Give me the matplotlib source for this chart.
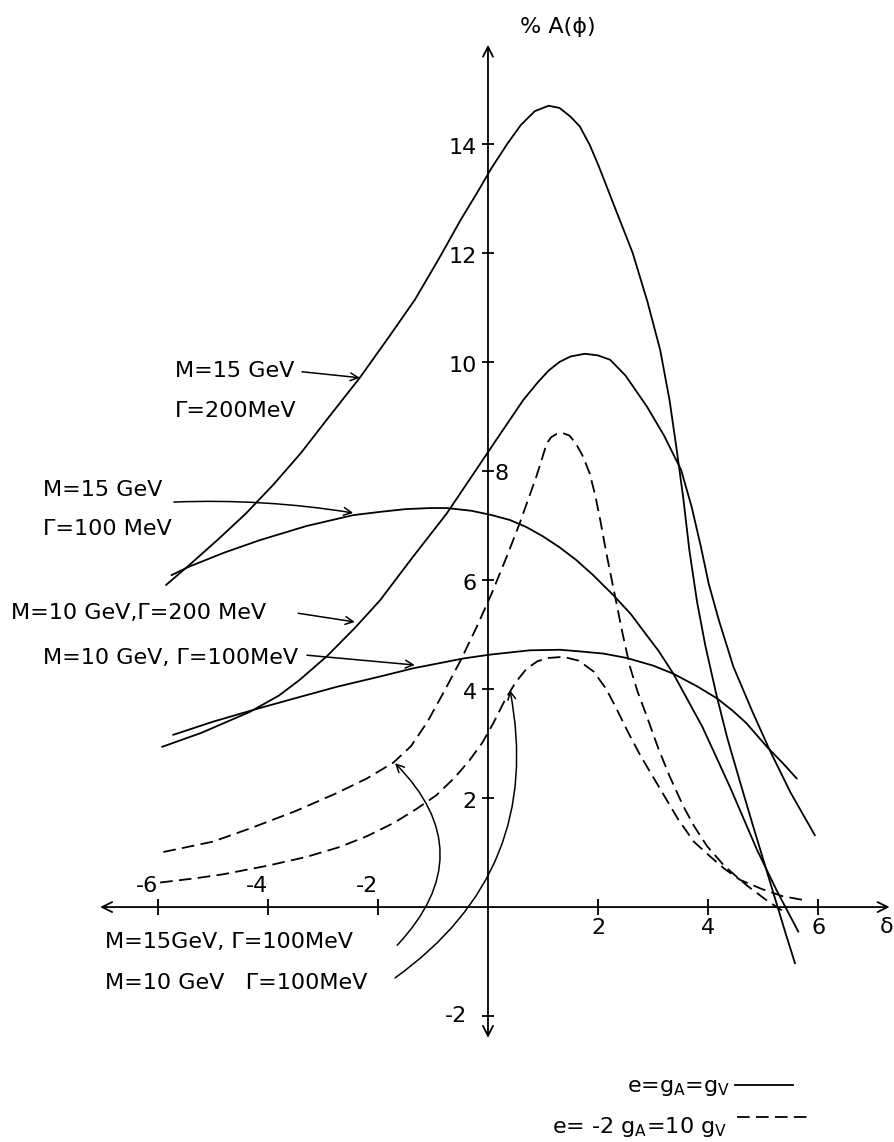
import matplotlib
matplotlib.use("Agg")
import matplotlib.pyplot as plt

# ---- curves: x = delta, y = % A(phi) ----
# solid: e = gA = gV
A15_200_X = [-5.85, -5.4, -4.9, -4.4, -3.9, -3.4, -2.9, -2.33, -1.8, -1.33, -0.9, -0.5, -0.2,
             0.06, 0.35, 0.6, 0.85, 1.1, 1.3, 1.5, 1.67, 1.85, 2.01, 2.3, 2.63, 2.9, 3.13,
             3.3, 3.43, 3.55, 3.66, 3.8, 3.95, 4.16, 4.35, 4.58, 4.8, 4.95, 5.1, 5.25, 5.4, 5.58]
A15_200_Y = [5.91, 6.30, 6.75, 7.22, 7.75, 8.33, 8.98, 9.71, 10.46, 11.14, 11.88, 12.60, 13.10,
             13.55, 14.00, 14.35, 14.60, 14.70, 14.66, 14.50, 14.32, 13.98, 13.60, 12.85, 12.00,
             11.10, 10.22, 9.30, 8.39, 7.50, 6.55, 5.60, 4.80, 3.86, 3.10, 2.30, 1.55, 1.05,
             0.55, 0.05, -0.45, -1.03]

A15_100_X = [-5.75, -5.42, -4.8, -4.15, -3.3, -2.45, -1.96, -1.5, -1.05, -0.75, -0.3, 0.07,
             0.4, 0.7, 1.0, 1.3, 1.6, 1.9, 2.28, 2.6, 2.8, 3.1, 3.37, 3.9, 4.4, 4.89, 5.25, 5.64]
A15_100_Y = [6.09, 6.25, 6.50, 6.73, 6.99, 7.19, 7.25, 7.30, 7.32, 7.32, 7.27, 7.19,
             7.10, 6.97, 6.80, 6.60, 6.37, 6.10, 5.72, 5.37, 5.10, 4.70, 4.28, 3.30, 2.20,
             1.05, 0.30, -0.45]

A10_200_X = [-5.92, -5.2, -4.33, -3.8, -3.42, -2.93, -2.42, -1.96, -1.36, -0.75, 0.07, 0.64,
             0.9, 1.1, 1.3, 1.5, 1.76, 2.0, 2.22, 2.5, 2.89, 3.2, 3.51, 3.7, 3.87, 4.01, 4.2,
             4.46, 4.8, 5.12, 5.5, 5.94]
A10_200_Y = [2.94, 3.20, 3.58, 3.88, 4.17, 4.60, 5.12, 5.63, 6.43, 7.22, 8.45, 9.30,
             9.62, 9.84, 10.00, 10.10, 10.15, 10.12, 10.04, 9.75, 9.18, 8.65, 8.02, 7.35, 6.61,
             5.94, 5.25, 4.41, 3.60, 2.88, 2.10, 1.32]

A10_100_X = [-5.72, -5.0, -4.15, -3.4, -2.75, -1.96, -1.36, -0.45, 0.03, 0.76, 1.31, 1.67,
             2.1, 2.52, 3.0, 3.37, 3.8, 4.16, 4.45, 4.7, 5.07, 5.35, 5.61]
A10_100_Y = [3.16, 3.40, 3.65, 3.86, 4.04, 4.23, 4.38, 4.56, 4.63, 4.71, 4.72, 4.69,
             4.65, 4.57, 4.43, 4.28, 4.05, 3.83, 3.60, 3.37, 2.94, 2.65, 2.36]

# dashed: e = -2 gA = 10 gV
B15_100_X = [-5.90, -5.0, -4.33, -3.5, -2.75, -2.2, -1.72, -1.4, -1.1, -0.8, -0.5, -0.2,
             0.07, 0.35, 0.58, 0.88, 1.07, 1.15, 1.25, 1.37, 1.48, 1.6, 1.73, 1.85, 1.95,
             2.05, 2.15, 2.31, 2.45, 2.58, 2.72, 2.89, 3.1, 3.31, 3.55, 3.75, 3.98, 4.3,
             4.7, 5.07, 5.34]
B15_100_Y = [1.01, 1.20, 1.44, 1.76, 2.09, 2.36, 2.65, 2.95, 3.40, 3.95, 4.52, 5.15,
             5.76, 6.45, 7.05, 7.90, 8.51, 8.62, 8.68, 8.69, 8.65, 8.50, 8.26, 7.95, 7.55,
             7.05, 6.50, 5.70, 5.00, 4.41, 3.95, 3.49, 2.90, 2.38, 1.85, 1.48, 1.12, 0.75,
             0.40, 0.12, -0.06]

B10_100_X = [-5.96, -5.3, -4.82, -4.0, -3.3, -2.7, -2.2, -1.7, -1.3, -0.94, -0.6, -0.33,
             -0.1, 0.1, 0.3, 0.5, 0.7, 0.9, 1.1, 1.37, 1.65, 1.92, 2.15, 2.34, 2.55, 2.77,
             3.14, 3.45, 3.74, 4.07, 4.3, 4.58, 4.98, 5.35, 5.73]
B10_100_Y = [0.45, 0.53, 0.60, 0.76, 0.92, 1.10, 1.30, 1.55, 1.80, 2.05, 2.38, 2.70,
             3.02, 3.38, 3.78, 4.12, 4.37, 4.51, 4.57, 4.59, 4.52, 4.32, 4.00, 3.63, 3.20, 2.78,
             2.15, 1.62, 1.20, 0.90, 0.70, 0.50, 0.33, 0.20, 0.13]

X_TICKS = [-6, -4, -2, 2, 4, 6]
Y_TICKS = [14, 12, 10, 8, 6, 4, 2, -2]

DASH = (0, (7, 3.5))
FS = 16

fig = plt.figure(figsize=(8.94, 11.42), dpi=100)
ax = fig.add_axes([0, 0, 1, 1])
ax.set_xlim(-8.87, 7.38)
ax.set_ylim(-4.31, 16.64)
ax.axis("off")

# axes with arrow heads
arrow = dict(arrowstyle="<->", lw=1.3, color="black", shrinkA=0, shrinkB=0, mutation_scale=18)
ax.annotate("", xy=(7.3, 0), xytext=(-7.05, 0), arrowprops=arrow)
ax.annotate("", xy=(0, 15.82), xytext=(0, -2.4), arrowprops=arrow)
ax.plot(X_TICKS, [0] * len(X_TICKS), ls="none", marker="|", ms=11, mew=1.3, color="black")
ax.plot([0] * len(Y_TICKS), Y_TICKS, ls="none", marker="_", ms=9, mew=1.3, color="black")

for t in X_TICKS:
    if t < 0:
        ax.text(t - 0.2, 0.38, f"-{abs(t)}", ha="center", va="center", fontsize=FS)
    else:
        ax.text(t, -0.39, str(t), ha="center", va="center", fontsize=FS)
for t in Y_TICKS:
    if t == 8:
        ax.text(0.12, t - 0.06, str(t), ha="left", va="center", fontsize=FS)
    elif t < 0:
        ax.text(-0.38, t, str(t), ha="right", va="center", fontsize=FS)
    else:
        ax.text(-0.2, t - 0.08, str(t), ha="right", va="center", fontsize=FS)

ax.text(1.27, 16.15, "% A(ϕ)", ha="center", va="center", fontsize=FS)
ax.text(7.37, -0.36, "δ", ha="right", va="center", fontsize=FS)

# curves
for xs, ys in [(A15_200_X, A15_200_Y), (A15_100_X, A15_100_Y),
               (A10_200_X, A10_200_Y), (A10_100_X, A10_100_Y)]:
    ax.plot(xs, ys, color="black", lw=1.3)
for xs, ys in [(B15_100_X, B15_100_Y), (B10_100_X, B10_100_Y)]:
    ax.plot(xs, ys, color="black", lw=1.3, ls=DASH)

# labels with pointer arrows
ptr = dict(arrowstyle="->", lw=1.1, color="black", shrinkA=0, shrinkB=0, mutation_scale=14)
ax.text(-5.69, 9.83, "M=15 GeV", ha="left", va="center", fontsize=FS)
ax.text(-5.69, 9.10, "Γ=200MeV", ha="left", va="center", fontsize=FS)
ax.annotate("", xy=(-2.33, 9.71), xytext=(-3.38, 9.82), arrowprops=ptr)

ax.text(-8.09, 7.65, "M=15 GeV", ha="left", va="center", fontsize=FS)
ax.text(-8.09, 6.94, "Γ=100 MeV", ha="left", va="center", fontsize=FS)
ax.annotate("", xy=(-2.45, 7.23), xytext=(-5.71, 7.43),
            arrowprops=dict(ptr, connectionstyle="arc3,rad=-0.05"))

ax.text(-8.67, 5.39, "M=10 GeV,Γ=200 MeV", ha="left", va="center", fontsize=FS)
ax.annotate("", xy=(-2.42, 5.23), xytext=(-3.45, 5.39), arrowprops=ptr)

ax.text(-8.09, 4.57, "M=10 GeV, Γ=100MeV", ha="left", va="center", fontsize=FS)
ax.annotate("", xy=(-1.33, 4.44), xytext=(-3.29, 4.62), arrowprops=ptr)

ax.text(-6.96, -0.64, "M=15GeV, Γ=100MeV", ha="left", va="center", fontsize=FS)
ax.annotate("", xy=(-1.69, 2.64), xytext=(-1.65, -0.70),
            arrowprops=dict(ptr, connectionstyle="arc3,rad=0.48"))

ax.text(-6.96, -1.39, "M=10 GeV   Γ=100MeV", ha="left", va="center", fontsize=FS)
ax.annotate("", xy=(0.40, 3.98), xytext=(-1.69, -1.30),
            arrowprops=dict(ptr, connectionstyle="arc3,rad=0.32"))

# key
ax.text(4.40, -3.32, r"e=g$_\mathrm{A}$=g$_\mathrm{V}$", ha="right", va="center", fontsize=FS)
ax.plot([4.49, 5.55], [-3.27, -3.27], color="black", lw=1.3)
ax.text(4.35, -4.04, r"e= -2 g$_\mathrm{A}$=10 g$_\mathrm{V}$", ha="right", va="center",
        fontsize=FS)
ax.plot([4.53, 5.82], [-3.85, -3.85], color="black", lw=1.3, ls=DASH)

fig.savefig("out.png", dpi=100, facecolor="white")
